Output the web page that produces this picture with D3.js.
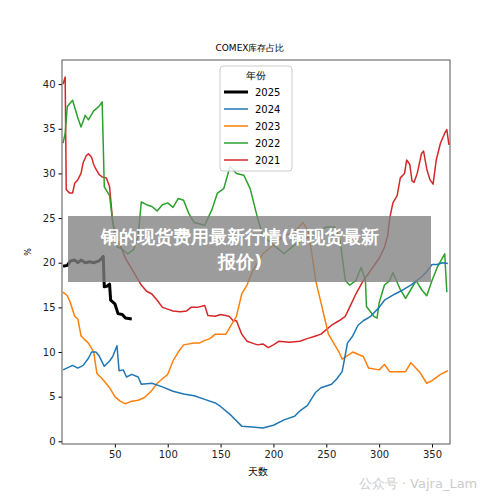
<!DOCTYPE html>
<html><head><meta charset="utf-8">
<script src="https://cdn.jsdelivr.net/npm/d3@7"></script>
<style>
body{margin:0;background:#fff;}
text{font-family:"DejaVu Sans",sans-serif;}
</style></head>
<body><svg width="500" height="500"></svg>
<script>
const years = ["2025", "2024", "2023", "2022", "2021"];
const colors = ["#000000", "#1f77b4", "#ff7f0e", "#2ca02c", "#d62728"];
const xTicks = [50, 100, 150, 200, 250, 300, 350];
const yTicks = [0, 5, 10, 15, 20, 25, 30, 35, 40];

const s2025 = [[1,19.6],[5,19.7],[8,20.2],[12,20.3],[15,20.0],[18,20.3],[22,20.0],[26,20.1],[30,20.0],[35,20.2],[39,20.7],[40,17.3],[43,17.4],[45,17.6],[46,15.8],[50,15.4],[53,14.3],[57,14.2],[60,13.8],[66,13.7]];
const s2024 = [[1,8.0],[10,8.5],[15,8.2],[20,8.5],[25,9.3],[28,10.0],[32,10.0],[35,9.6],[40,8.4],[45,9.0],[48,9.5],[52,10.7],[54,7.9],[58,8.0],[61,7.2],[66,7.5],[72,7.2],[75,6.4],[85,6.5],[95,6.1],[105,5.6],[115,5.3],[125,5.1],[135,4.7],[145,4.3],[150,3.9],[160,2.9],[170,1.7],[180,1.6],[190,1.5],[200,1.8],[210,2.4],[220,2.8],[225,3.4],[232,4.0],[240,5.5],[245,6.0],[255,6.4],[260,7.0],[265,7.8],[270,11.0],[275,11.8],[280,13.0],[285,13.5],[292,14.0],[300,15.0],[305,15.8],[315,16.5],[320,16.8],[330,17.5],[340,18.4],[345,19.0],[350,19.8],[355,19.8],[360,20.0],[365,19.9]];
const s2023 = [[1,16.7],[5,16.3],[8,15.5],[12,14.0],[15,13.7],[18,11.8],[25,11.0],[30,10.0],[33,7.6],[38,7.0],[45,6.0],[50,5.0],[55,4.5],[60,4.2],[66,4.5],[72,4.6],[78,4.9],[85,5.7],[90,6.5],[97,7.2],[100,7.5],[105,9.0],[110,10.0],[115,10.8],[125,11.0],[130,11.0],[135,11.3],[140,11.5],[145,12.0],[155,12.0],[160,13.0],[165,14.0],[170,16.5],[175,17.5],[180,19.0],[190,21.0],[197,21.7],[210,23.0],[220,23.5],[228,24.5],[233,23.5],[237,20.5],[240,18.0],[246,15.0],[252,12.0],[262,10.0],[265,9.2],[275,10.0],[285,9.5],[290,8.2],[300,8.0],[305,8.6],[310,7.8],[325,7.8],[330,8.8],[338,7.8],[345,6.5],[350,6.8],[358,7.5],[365,7.9]];
const s2022 = [[1,33.4],[3,34.5],[5,37.5],[10,38.2],[15,36.2],[18,35.2],[22,36.5],[25,36.0],[30,37.0],[35,37.5],[38,38.0],[40,28.5],[45,27.5],[48,24.5],[52,21.8],[57,21.5],[62,21.0],[68,21.5],[72,23.0],[75,26.8],[80,26.5],[85,26.3],[90,25.8],[95,26.5],[100,26.7],[105,26.2],[110,27.2],[115,27.0],[120,25.5],[125,24.5],[135,24.2],[142,26.0],[147,27.8],[153,28.3],[159,30.8],[165,30.0],[172,29.8],[178,28.3],[185,25.0],[190,23.0],[200,22.0],[210,21.0],[220,22.0],[235,23.0],[250,24.0],[258,24.0],[263,22.5],[268,18.0],[272,17.5],[278,18.0],[283,19.5],[287,18.0],[288,15.1],[295,14.0],[298,13.8],[300,15.5],[305,17.5],[310,18.0],[313,18.9],[320,17.0],[325,16.0],[330,17.0],[335,18.0],[340,17.0],[345,16.3],[350,18.0],[355,19.5],[362,21.0],[364,16.7]];
const s2021 = [[1,40.0],[3,40.8],[4,28.2],[7,27.8],[10,27.8],[12,28.9],[15,29.3],[18,30.0],[20,31.2],[23,32.0],[25,32.2],[28,31.8],[30,31.0],[32,30.5],[35,29.9],[38,29.6],[42,29.5],[45,28.5],[48,24.5],[52,22.5],[55,22.0],[60,20.5],[65,19.5],[70,18.5],[75,17.5],[80,16.8],[85,16.5],[90,15.8],[95,15.0],[100,14.8],[105,14.6],[112,14.5],[118,14.6],[122,15.0],[128,15.0],[135,15.2],[138,14.1],[145,14.0],[150,14.2],[158,14.0],[162,13.5],[165,13.5],[170,12.0],[175,11.2],[180,11.0],[185,10.8],[190,10.9],[195,10.5],[200,10.8],[205,11.2],[215,11.1],[225,11.2],[232,11.5],[240,11.8],[245,12.0],[250,12.5],[255,13.0],[262,13.5],[268,14.0],[272,15.0],[278,16.5],[285,18.0],[290,18.8],[300,20.5],[305,21.7],[308,23.0],[310,25.0],[313,26.7],[317,27.5],[320,29.5],[324,30.0],[326,31.5],[329,31.0],[331,29.2],[333,29.0],[336,30.0],[340,32.2],[342,32.5],[345,30.5],[348,29.3],[351,28.8],[354,31.5],[358,33.4],[362,34.5],[364,34.9],[366,33.2]];
const series = [s2025, s2024, s2023, s2022, s2021];

const svg = d3.select("svg");
const margin = { top: 60, right: 50, bottom: 56, left: 62 };
const innerWidth = 500 - margin.left - margin.right;
const innerHeight = 500 - margin.top - margin.bottom;

const xScale = d3.scaleLinear().domain([0, 367]).range([0, innerWidth]);
const yScale = d3.scaleLinear().domain([-0.3, 42.7]).range([innerHeight, 0]);

const g = svg.append("g").attr("transform", `translate(${margin.left},${margin.top})`);

const line = d3.line().x((d) => xScale(d[0])).y((d) => yScale(d[1]));

// draw older years first so 2025 sits on top
series.slice().reverse().forEach((s, i) => {
  const k = series.length - 1 - i;
  g.append("path").datum(s)
    .attr("fill", "none")
    .attr("stroke", colors[k])
    .attr("stroke-width", k === 0 ? 3 : 1.5)
    .attr("stroke-linejoin", "round")
    .attr("d", line);
});

const xAxisG = g.append("g").attr("transform", `translate(0,${innerHeight})`)
  .call(d3.axisBottom(xScale).tickValues(xTicks).tickSize(3.5).tickPadding(3));
const yAxisG = g.append("g")
  .call(d3.axisLeft(yScale).tickValues(yTicks).tickSize(3.5).tickPadding(3));
[xAxisG, yAxisG].forEach((a) => {
  a.selectAll("text").attr("font-size", 10).attr("fill", "#222");
  a.select(".domain").remove();
});

g.append("rect").attr("width", innerWidth).attr("height", innerHeight)
  .attr("fill", "none").attr("stroke", "#555").attr("stroke-width", 1);

svg.append("text").attr("x", 250).attr("y", 51).attr("text-anchor", "middle")
  .attr("font-size", 9).text("COMEX库存占比");
svg.append("text").attr("x", 258).attr("y", 475).attr("text-anchor", "middle")
  .attr("font-size", 10).text("天数");
svg.append("text").attr("transform", "translate(31,252) rotate(-90)")
  .attr("text-anchor", "middle").attr("font-size", 8).text("%");

// legend
const lg = svg.append("g").attr("transform", "translate(220,66)");
lg.append("rect").attr("width", 72).attr("height", 105).attr("rx", 3)
  .attr("fill", "rgba(255,255,255,0.85)").attr("stroke", "#ccc");
lg.append("text").attr("x", 36).attr("y", 13).attr("text-anchor", "middle")
  .attr("font-size", 10).text("年份");
years.forEach((y, i) => {
  const yy = 26 + i * 17;
  lg.append("line").attr("x1", 4).attr("x2", 28).attr("y1", yy).attr("y2", yy)
    .attr("stroke", colors[i]).attr("stroke-width", i === 0 ? 3 : 1.5);
  lg.append("text").attr("x", 35).attr("y", yy + 4).attr("font-size", 10).text(y);
});

// overlay banner
svg.append("rect").attr("x", 68).attr("y", 216).attr("width", 363).attr("height", 66)
  .attr("fill", "rgba(128,128,128,0.78)");
const bannerLines = ["铜的现货费用最新行情(铜现货最新", "报价)"];
bannerLines.forEach((t, i) => {
  svg.append("text").attr("x", 240).attr("y", 243 + i * 25).attr("text-anchor", "middle")
    .attr("font-family", "Noto Sans CJK SC").attr("font-weight", "bold")
    .attr("font-size", 18).attr("fill", "#fff").text(t);
});

svg.append("text").attr("x", 418).attr("y", 488).attr("text-anchor", "middle")
  .attr("font-family", "Noto Sans CJK SC").attr("font-size", 13)
  .attr("fill", "#ccc").text("公众号 · Vajra_Lam");
</script></body></html>
